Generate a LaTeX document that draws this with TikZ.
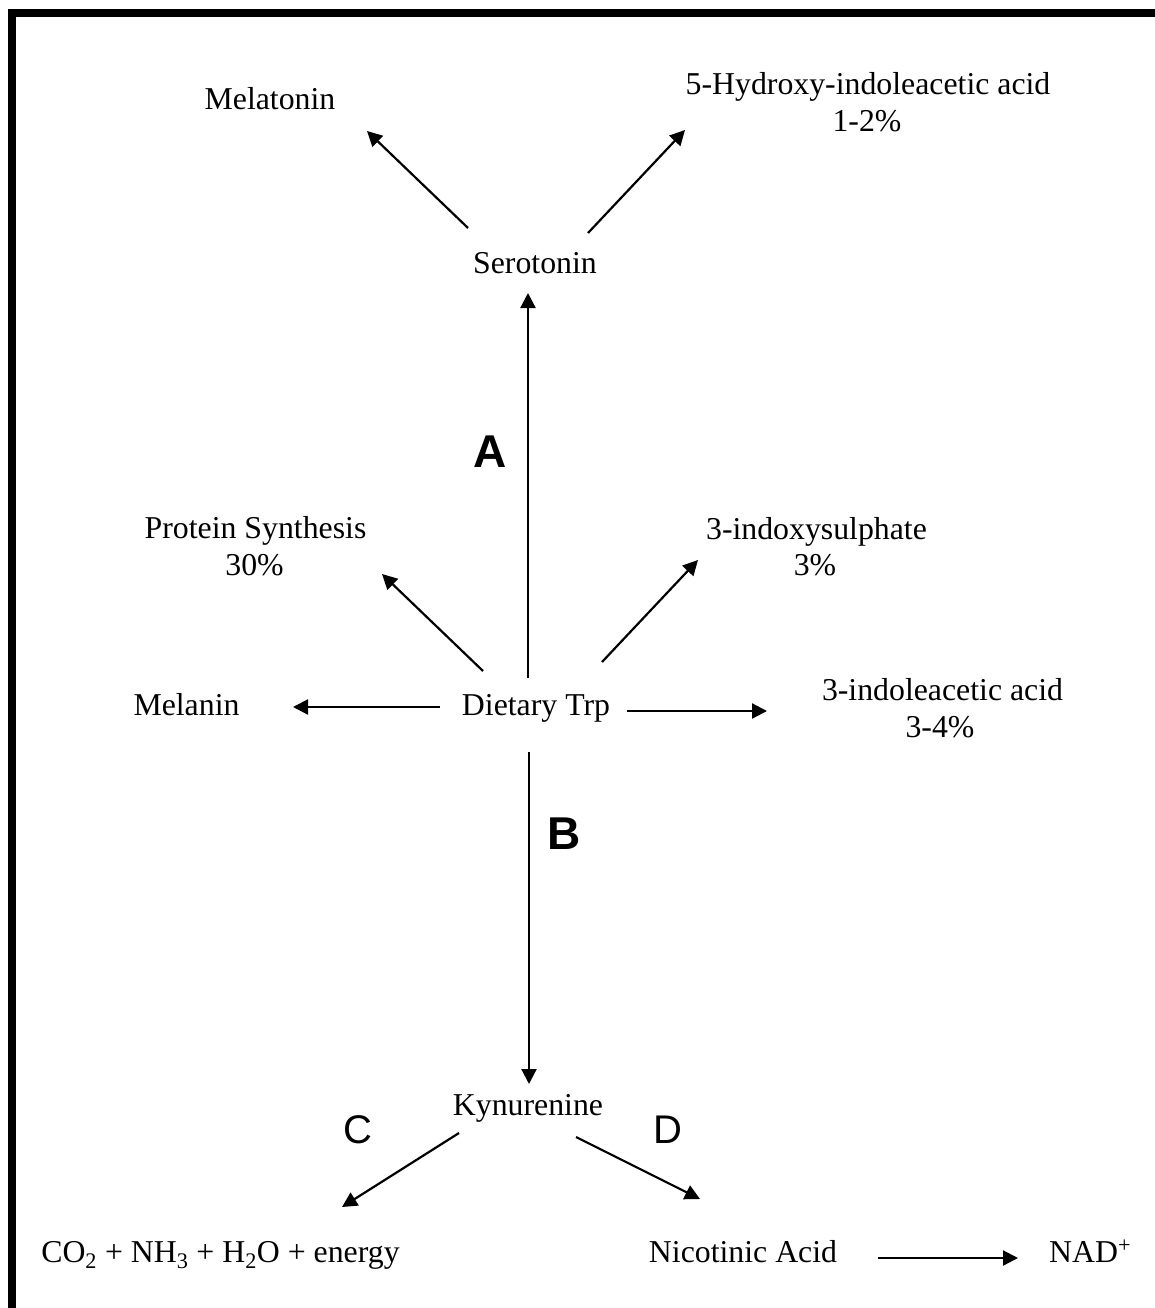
\documentclass[tikz,border=0pt]{standalone}
\usepackage{fontspec}
\setmainfont{Liberation Serif}
\newfontfamily\arialfont{Liberation Sans}
\usetikzlibrary{arrows.meta}
\newcommand\txtsz{\fontsize{31.8}{37}\selectfont}
\tikzset{
  lbl/.style={inner sep=0pt, anchor=base, font=\txtsz},
  bigletter/.style={inner sep=0pt, anchor=base, font=\arialfont\bfseries\fontsize{46}{50}\selectfont},
  midletter/.style={inner sep=0pt, anchor=base, font=\arialfont\fontsize{40}{44}\selectfont},
  arr/.style={line width=2.2pt, -{Triangle[length=15pt,width=15pt]}},
  frame/.style={line width=8pt, line join=miter}
}
\begin{document}
\begin{tikzpicture}[x=1pt,y=-1pt]
\useasboundingbox (0,0) rectangle (1155,1308);
\fill[white] (0,0) rectangle (1155,1308);
% frame
\draw[frame] (12,1308) -- (12,13) -- (1155,13);

% text nodes
\node[lbl] (mel) at (270,110) {Melatonin};
\node[lbl] (hiaa) at (868,95) {5-Hydroxy-indoleacetic acid};
\node[lbl] (hiaap) at (867,132) {1-2\%};
\node[lbl] (ser) at (535,273) {Serotonin};
\node[lbl] (prot) at (255.5,538) {Protein Synthesis};
\node[lbl] (protp) at (254.5,575) {30\%};
\node[lbl] (indx) at (816.5,539) {3-indoxysulphate};
\node[lbl] (indxp) at (815,575) {3\%};
\node[lbl] (mln) at (186.5,715) {Melanin};
\node[lbl] (trp) at (536,715) {Dietary Trp};
\node[lbl] (iaa) at (942.5,700) {3-indoleacetic acid};
\node[lbl] (iaap) at (940,737) {3-4\%};
\node[lbl] (kyn) at (528,1115) {Kynurenine};
\node[lbl] (co2) at (220.5,1262) {CO\textsubscript{2} + NH\textsubscript{3} + H\textsubscript{2}O + energy};
\node[lbl] (nic) at (743,1262) {Nicotinic Acid};
\node[lbl, anchor=base west] (nad) at (1049,1262) {NAD\textsuperscript{+}};

\node[bigletter] (la) at (490,467) {A};
\node[bigletter] (lb) at (564,849) {B};
\node[midletter] (lc) at (357.5,1143) {C};
\node[midletter] (ld) at (668,1143) {D};

% connector end points
\coordinate (serMelS) at (468,228);  \coordinate (serMelE) at (367,131);
\coordinate (serHiS) at (588,233);   \coordinate (serHiE) at (685,130);
\coordinate (trpSerS) at (528,678);  \coordinate (trpSerE) at (528,293);
\coordinate (trpProS) at (483,671);  \coordinate (trpProE) at (382,574);
\coordinate (trpIndS) at (602,662);  \coordinate (trpIndE) at (698,560);
\coordinate (trpMlnS) at (440,707);  \coordinate (trpMlnE) at (293,707);
\coordinate (trpIaaS) at (627,711);  \coordinate (trpIaaE) at (767,711);
\coordinate (trpKynS) at (529,752);  \coordinate (trpKynE) at (529,1084);
\coordinate (kynCoS) at (459,1133);  \coordinate (kynCoE) at (342,1207);
\coordinate (kynNicS) at (576,1137); \coordinate (kynNicE) at (700,1199);
\coordinate (nicNadS) at (878,1258); \coordinate (nicNadE) at (1018,1258);

% connectors
\draw[arr] (serMelS) -- (serMelE);
\draw[arr] (serHiS) -- (serHiE);
\draw[arr] (trpSerS) -- (trpSerE);
\draw[arr] (trpProS) -- (trpProE);
\draw[arr] (trpIndS) -- (trpIndE);
\draw[arr] (trpMlnS) -- (trpMlnE);
\draw[arr] (trpIaaS) -- (trpIaaE);
\draw[arr] (trpKynS) -- (trpKynE);
\draw[arr] (kynCoS) -- (kynCoE);
\draw[arr] (kynNicS) -- (kynNicE);
\draw[arr] (nicNadS) -- (nicNadE);
\end{tikzpicture}
\end{document}
